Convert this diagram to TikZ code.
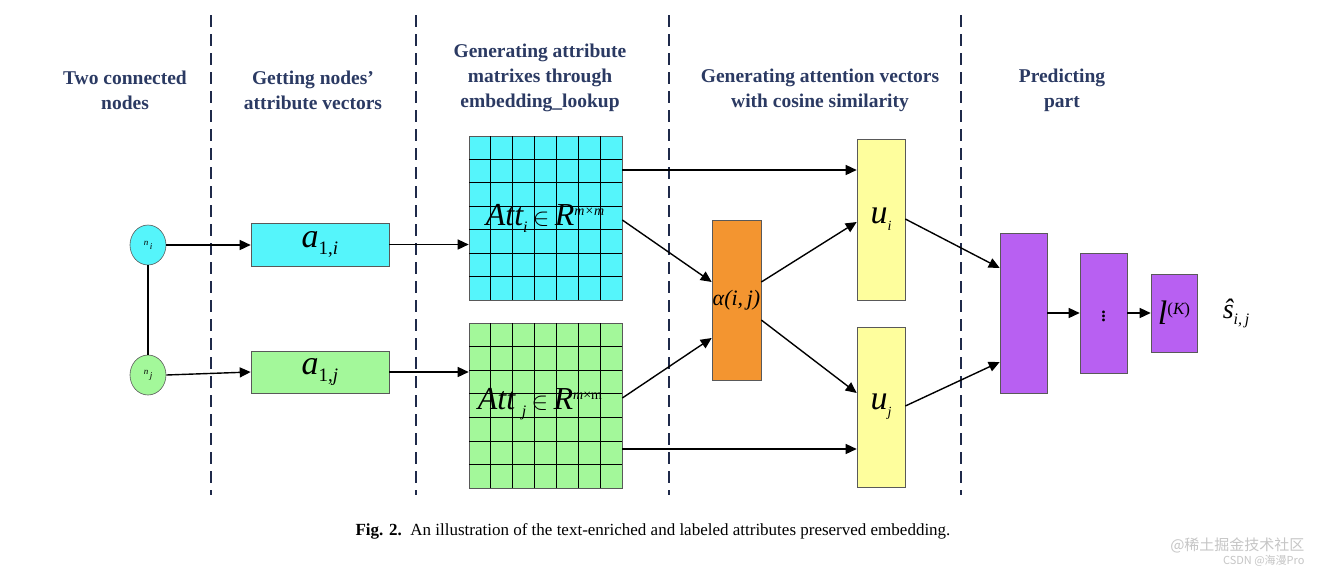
\documentclass[tikz,border=0pt]{standalone}
\usepackage{fontspec}
\setmainfont{Liberation Serif}
\newfontfamily\capfont{Liberation Serif}
\newfontfamily\cjk{Noto Sans CJK SC}
\usetikzlibrary{arrows.meta,shapes.geometric,calc}
\definecolor{navy}{HTML}{1F2A4A}
\definecolor{hdr}{HTML}{2B3A63}
\definecolor{cy}{HTML}{55F5FB}
\definecolor{gr}{HTML}{A3F89A}
\definecolor{og}{HTML}{F39530}
\definecolor{yl}{HTML}{FEFE9D}
\definecolor{pu}{HTML}{B860F2}
\begin{document}
\begin{tikzpicture}[x=1pt,y=-1pt,
  hd/.style={font=\fontsize{19.5}{25}\selectfont\bfseries, text=hdr, align=center},
  box/.style={draw=gray!70!black, line width=0.6pt, inner sep=0},
  arr/.style={-{Triangle[length=11pt,width=10pt]}, line width=1.4pt},
  ln/.style={line width=1.3pt},
  dl/.style={navy, line width=1.6pt, dash pattern=on 12pt off 7pt}]
\useasboundingbox (0,0) rectangle (1321,573);
\fill[white] (0,0) rectangle (1321,573);
\foreach \x in {211,416,669,961} \draw[dl] (\x,15) -- (\x,495);
\node[hd] (h1) at (125,90) {Two connected\\nodes};
\node[hd] (h2) at (313,90) {Getting nodes’\\attribute vectors};
\node[hd] (h3) at (540,78) {Generating attribute\\matrixes through\\embedding\_lookup};
\node[hd] (h4) at (820,90) {Generating attention vectors\\with cosine similarity};
\node[hd] (h5) at (1062,90) {Predicting\\part};
% nodes
\node[ellipse, box, fill=cy, minimum width=36pt, minimum height=40pt] (ni) at (148,245) {\fontsize{9}{9}\selectfont\itshape n\raisebox{-4pt}{\,i}};
\node[ellipse, box, fill=gr, minimum width=36pt, minimum height=40pt] (nj) at (148,375) {\fontsize{9}{9}\selectfont\itshape n\raisebox{-4pt}{\,j}};
\draw[ln] (ni) -- (nj);
\node[box, fill=cy, minimum width=138pt, minimum height=43pt] (ai) at (320,244.5) {\fontsize{34}{34}\selectfont\itshape a\raisebox{-7pt}{\fontsize{19}{19}\selectfont\upshape 1,\itshape i}};
\node[box, fill=gr, minimum width=138pt, minimum height=42pt] (aj) at (320,372) {\fontsize{34}{34}\selectfont\itshape a\raisebox{-7pt}{\fontsize{19}{19}\selectfont\upshape 1,\itshape j}};
% matrices
\node[box, fill=cy, minimum width=153pt, minimum height=164pt] (mi) at (545.5,218) {};
\node[box, fill=gr, minimum width=153pt, minimum height=165pt] (mj) at (545.5,405.5) {};
\foreach \k in {1,...,6}{
  \draw[line width=1pt] ($(469,136)+(\k*21.86,0)$) -- ++(0,164);
  \draw[line width=1pt] (469,136+\k*23.4) -- ++(153,0);
  \draw[line width=1pt] ($(469,323)+(\k*21.86,0)$) -- ++(0,165);
  \draw[line width=1pt] (469,323+\k*23.6) -- ++(153,0);
}
\node[font=\fontsize{32}{32}\selectfont] (li) at (545,218) {\itshape Att\raisebox{-7pt}{\fontsize{16}{16}\selectfont i}\,$\in$\,R\raisebox{10pt}{\fontsize{14}{14}\selectfont m×m}};
\node[font=\fontsize{32}{32}\selectfont] (lj) at (540,404) {\itshape Att\raisebox{-7pt}{\fontsize{16}{16}\selectfont\, j}\,$\in$\,R\raisebox{10pt}{\fontsize{14}{14}\selectfont\itshape m\upshape ×m}};
% orange & yellow
\node[box, fill=og, minimum width=49pt, minimum height=160pt] (al) at (736.5,300) {\fontsize{22}{22}\selectfont\itshape α(i,\,j)};
\node[box, fill=yl, minimum width=48pt, minimum height=161pt] (ui) at (881,219.5) {\fontsize{34}{34}\selectfont\itshape u\raisebox{-7pt}{\fontsize{14}{14}\selectfont i}};
\node[box, fill=yl, minimum width=48pt, minimum height=160pt] (uj) at (881,407) {\fontsize{34}{34}\selectfont\itshape u\raisebox{-7pt}{\fontsize{14}{14}\selectfont j}};
% purple
\node[box, fill=pu, minimum width=47pt, minimum height=160pt] (p1) at (1023.5,313) {};
\node[box, fill=pu, minimum width=47pt, minimum height=120pt] (p2) at (1103.5,313) {\fontsize{24}{24}\selectfont $\vdots$};
\node[box, fill=pu, minimum width=46pt, minimum height=78pt] (p3) at (1174,313) {\fontsize{34}{34}\selectfont\itshape l\raisebox{10pt}{\fontsize{17}{17}\selectfont\upshape(\itshape K\upshape)}};
\node[font=\fontsize{28}{28}\selectfont] (sh) at (1236,313) {\itshape ŝ\raisebox{-6pt}{\fontsize{16}{16}\selectfont i,\,j}};
% arrows
\draw[arr] (ni.east) -- (ai.west|-ni.east);
\draw[arr] (ai.east) -- (mi.west|-ai.east);
\draw[arr] (nj.east) -- (aj.west);
\draw[arr] (aj.east) -- (mj.west|-aj.east);
\draw[arr] (mi.east|-0,170) -- (ui.west|-0,170);
\draw[arr] (mi.east|-0,220) -- (al.west|-0,282);
\draw[arr] (mj.east|-0,398) -- (al.west|-0,338);
\draw[arr] (al.east|-0,282) -- (ui.west|-0,222);
\draw[arr] (al.east|-0,320) -- (uj.west|-0,393);
\draw[arr] (mj.east|-0,449) -- (uj.west|-0,449);
\draw[arr] (ui.east|-0,219) -- (p1.west|-0,268);
\draw[arr] (uj.east|-0,406) -- (p1.west|-0,362);
\draw[arr] (p1) -- (p2);
\draw[arr] (p2) -- (p3);
% caption
\node[font=\fontsize{17}{19}\selectfont\capfont] (cap) at (653,531) {\textbf{Fig. 2.}\ \ An illustration of the text-enriched and labeled attributes preserved embedding.};
\node[font=\fontsize{15}{15}\selectfont\cjk, text=white!55!gray, anchor=east] (w1) at (1308,545) {@稀土掘金技术社区};
\node[font=\fontsize{11}{11}\selectfont\cjk, text=white!55!gray, anchor=east] (w2) at (1308,561) {CSDN @海漫Pro};
\end{tikzpicture}
\end{document}
